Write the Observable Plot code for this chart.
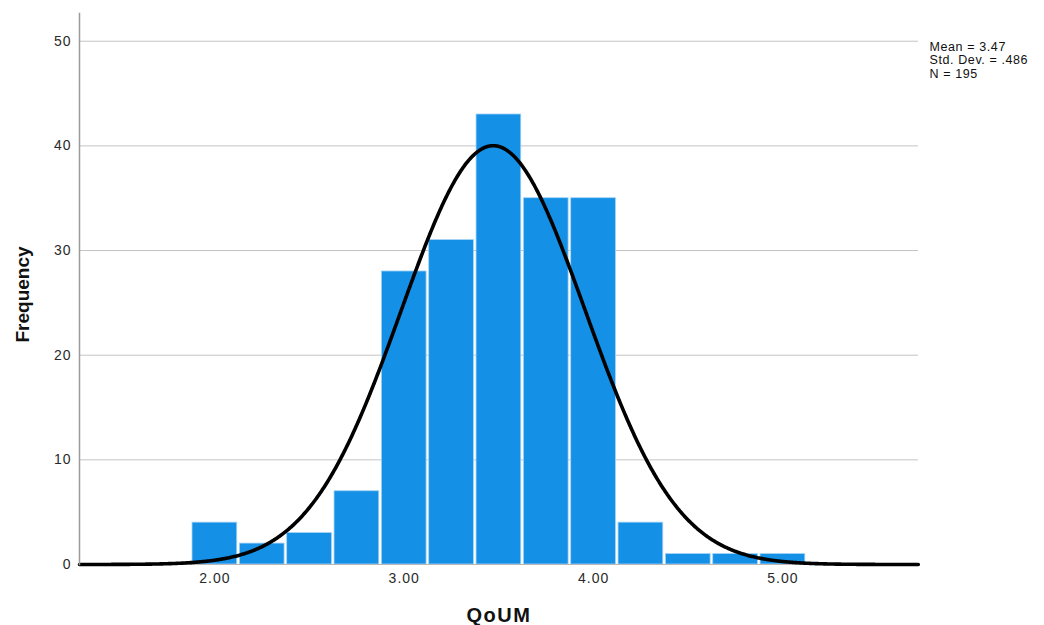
<!DOCTYPE html>
<html>
<head>
<meta charset="utf-8">
<script src="https://cdn.jsdelivr.net/npm/d3@7"></script>
<script src="https://cdn.jsdelivr.net/npm/@observablehq/plot@0.6"></script>
<style>
  html, body { margin: 0; padding: 0; background: #ffffff; }
  #chart svg { display: block; }
  #chart svg g[aria-label="x-axis tick label"] text,
  #chart svg g[aria-label="y-axis tick label"] text { font-size: 14px; letter-spacing: 1px; }
</style>
</head>
<body>
<div id="chart"></div>
<script>
// Histogram of QoUM scores (bin width 0.25) with fitted normal curve
const binCenters = [2.00, 2.25, 2.50, 2.75, 3.00, 3.25, 3.50, 3.75, 4.00, 4.25, 4.50, 4.75, 5.00];
const frequencies = [4, 2, 3, 7, 28, 31, 43, 35, 35, 4, 1, 1, 1];
const binWidth = 0.25;

const xTicks = [2, 3, 4, 5];
const yTicks = [0, 10, 20, 30, 40, 50];

const mean = 3.47;
const stdDev = 0.486;
const n = 195;
const statsLines = ["Mean = 3.47", "Std. Dev. = .486", "N = 195"];
const xTitle = "QoUM";
const yTitle = "Frequency";

const xDomain = [1.285, 5.716];
const yDomain = [0, 52.65];

const bins = binCenters.map((c, i) => ({
  x1: c - binWidth / 2,
  x2: c + binWidth / 2,
  count: frequencies[i]
}));

// Normal density scaled to counts per bin
const curve = d3.range(xDomain[0], xDomain[1] + 0.0001, 0.005).map(x => ({
  x,
  y: n * binWidth * Math.exp(-0.5 * ((x - mean) / stdDev) ** 2) / (stdDev * Math.sqrt(2 * Math.PI))
}));

const font = "'Liberation Sans', Arial, sans-serif";

// One text mark per statistics line, stacked in the right margin
const statsMarks = statsLines.map((line, i) =>
  Plot.text([line], {
    frameAnchor: "top-right",
    dx: 11,
    dy: 33 + i * 13.8,
    textAnchor: "start",
    lineAnchor: "middle",
    fontSize: 12.5,
    fill: "#111111"
  })
);

const chart = Plot.plot({
  width: 1044,
  height: 625,
  marginLeft: 79,
  marginRight: 126,
  marginTop: 13,
  marginBottom: 61,
  style: { fontFamily: font, fontSize: "13px", background: "#ffffff", overflow: "visible" },
  x: { domain: xDomain },
  y: { domain: yDomain },
  marks: [
    Plot.gridY(yTicks.filter(d => d > 0), { stroke: "#c4c4c4", strokeOpacity: 1, strokeWidth: 1 }),
    Plot.rectY(bins, {
      x1: "x1", x2: "x2", y: "count",
      fill: "#1490e6",
      stroke: "#a6d3f5",
      strokeWidth: 0.8,
      insetLeft: 1.3,
      insetRight: 1.3
    }),
    Plot.ruleY([0], { stroke: "#b8b8b8", strokeWidth: 1.2 }),
    Plot.line(curve, { x: "x", y: "y", stroke: "#000000", strokeWidth: 3.6, curve: "linear" }),
    Plot.frame({ anchor: "left", stroke: "#9a9a9a", strokeWidth: 1.5 }),
    Plot.axisY(yTicks, {
      tickSize: 0, tickPadding: 8, label: null,
      fill: "#2a2a2a"
    }),
    Plot.axisX(xTicks, {
      tickSize: 0, tickPadding: 9, label: null,
      tickFormat: d3.format(".2f"),
      fill: "#2a2a2a"
    }),
    Plot.text([xTitle], {
      frameAnchor: "bottom", dy: 57, lineAnchor: "bottom",
      fontSize: 20, fontWeight: "bold", fill: "#111111"
    }),
    Plot.text([yTitle], {
      frameAnchor: "left", dx: -57, dy: 5.5, rotate: -90,
      textAnchor: "middle",
      fontSize: 19, fontWeight: "bold", fill: "#111111"
    }),
    ...statsMarks
  ]
});

// SPSS-style wide lettering for the titles and the statistics box
d3.select(chart).selectAll("text").each(function () {
  const t = this.textContent;
  if (t === xTitle) this.style.letterSpacing = "1.5px";
  if (statsLines.includes(t)) this.style.letterSpacing = "0.6px";
});

document.getElementById("chart").appendChild(chart);
</script>
</body>
</html>
